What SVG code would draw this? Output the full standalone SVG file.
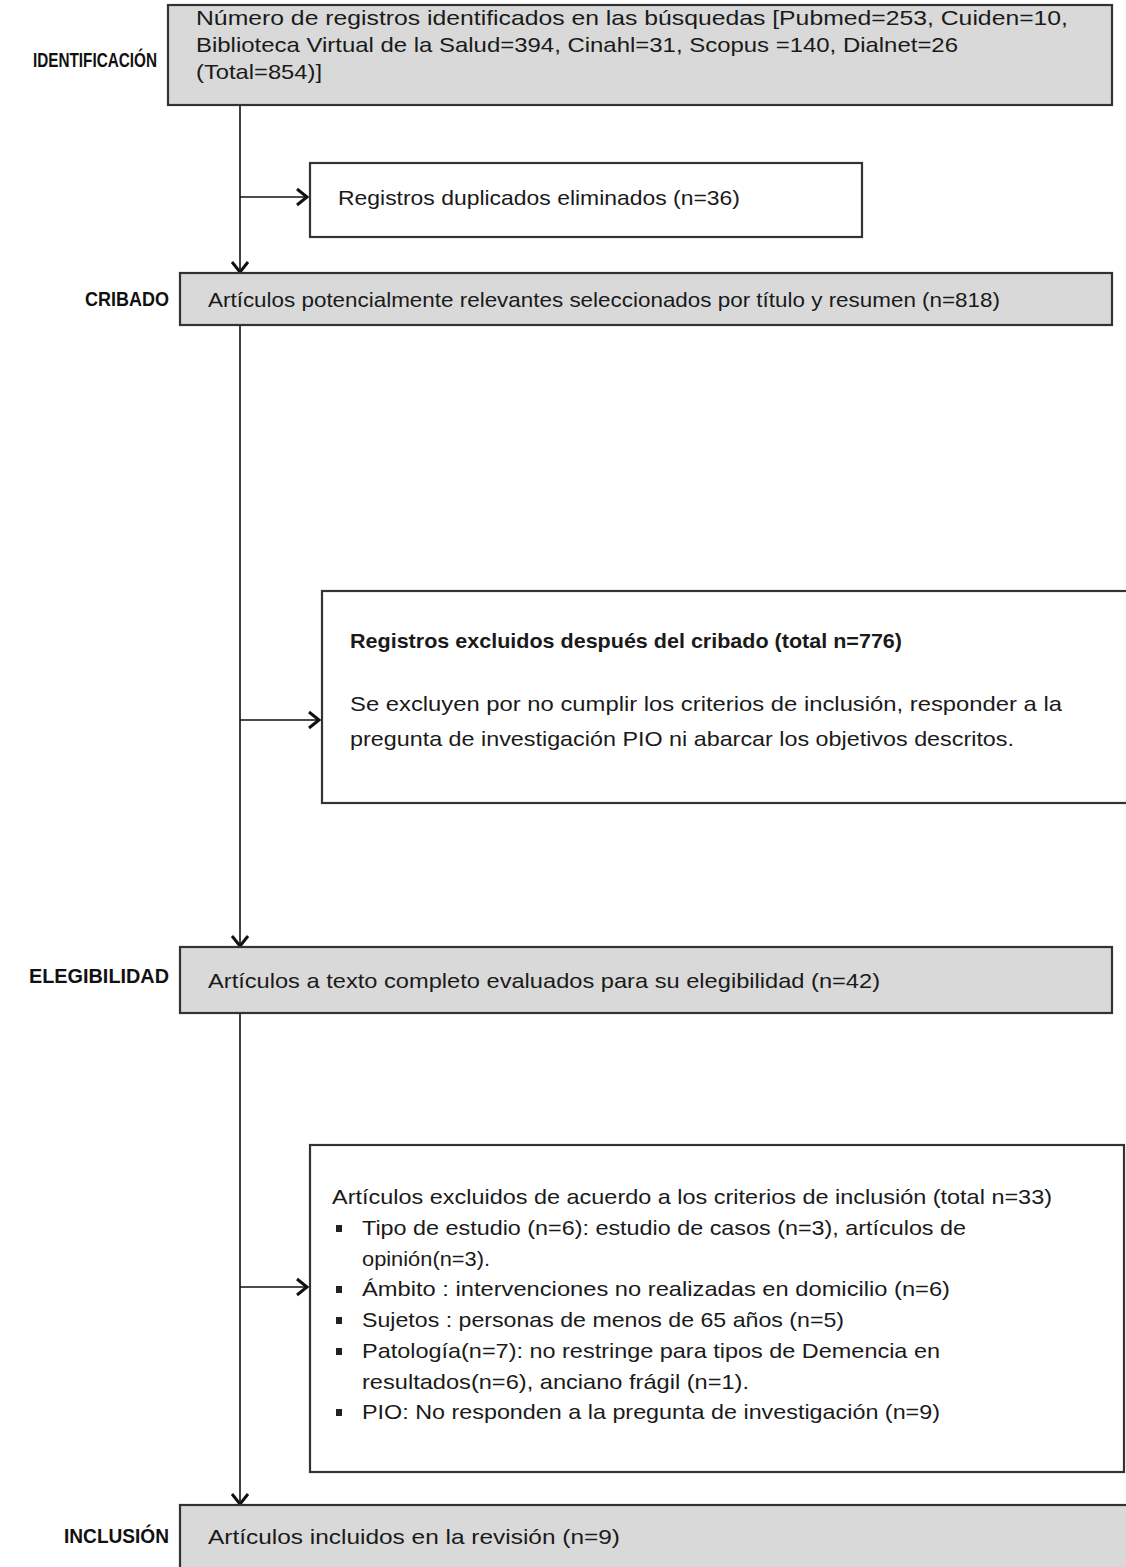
<svg xmlns="http://www.w3.org/2000/svg" width="1126" height="1567" viewBox="0 0 1126 1567">
<defs>
<marker id="arr" markerWidth="18" markerHeight="20" refX="13" refY="10" orient="auto" markerUnits="userSpaceOnUse">
<path d="M3,2 L13,10 L3,18" fill="none" stroke="#111" stroke-width="3"/>
</marker>
<style>
.t{font-family:"Liberation Sans",Arial,sans-serif;font-size:21px;fill:#1a1a1a}
.b{font-weight:bold}
.lab{font-family:"Liberation Sans",Arial,sans-serif;font-size:21px;font-weight:bold;fill:#111}
.g{fill:#d9d9d9;stroke:#333;stroke-width:2.2}
.w{fill:#fff;stroke:#333;stroke-width:2.2}
.c{fill:none;stroke:#111;stroke-width:1.6}
</style>
</defs>
<rect width="1126" height="1567" fill="#fff"/>
<g id="labels">
<text class="lab" x="33" y="67" textLength="124" lengthAdjust="spacingAndGlyphs">IDENTIFICACIÓN</text>
<text class="lab" x="85" y="306" textLength="84" lengthAdjust="spacingAndGlyphs">CRIBADO</text>
<text class="lab" x="29" y="983" textLength="140" lengthAdjust="spacingAndGlyphs">ELEGIBILIDAD</text>
<text class="lab" x="64" y="1543" textLength="105" lengthAdjust="spacingAndGlyphs">INCLUSIÓN</text>
</g>
<g id="connectors">
<line class="c" x1="240" y1="105" x2="240" y2="272" marker-end="url(#arr)"/>
<line class="c" x1="240" y1="197" x2="307" y2="197" marker-end="url(#arr)"/>
<line class="c" x1="240" y1="325" x2="240" y2="946" marker-end="url(#arr)"/>
<line class="c" x1="240" y1="720" x2="319" y2="720" marker-end="url(#arr)"/>
<line class="c" x1="240" y1="1013" x2="240" y2="1504" marker-end="url(#arr)"/>
<line class="c" x1="240" y1="1287" x2="307" y2="1287" marker-end="url(#arr)"/>
</g>
<g id="identificacion">
<rect class="g" x="168" y="5" width="944" height="100"/>
<text class="t" x="196" y="25" textLength="872" lengthAdjust="spacingAndGlyphs">Número  de registros identificados en las búsquedas [Pubmed=253, Cuiden=10,</text>
<text class="t" x="196" y="52" textLength="762" lengthAdjust="spacingAndGlyphs">Biblioteca Virtual de la Salud=394, Cinahl=31,  Scopus =140, Dialnet=26</text>
<text class="t" x="196" y="79" textLength="126" lengthAdjust="spacingAndGlyphs">(Total=854)]</text>
</g>
<g id="duplicados">
<rect class="w" x="310" y="163" width="552" height="74"/>
<text class="t" x="338" y="205" textLength="402" lengthAdjust="spacingAndGlyphs">Registros duplicados eliminados (n=36)</text>
</g>
<g id="cribado">
<rect class="g" x="180" y="273" width="932" height="52"/>
<text class="t" x="208" y="307" textLength="792" lengthAdjust="spacingAndGlyphs">Artículos potencialmente relevantes seleccionados por título y resumen  (n=818)</text>
</g>
<g id="excluidos-cribado">
<rect class="w" x="322" y="591" width="810" height="212"/>
<text class="t b" x="350" y="648" textLength="552" lengthAdjust="spacingAndGlyphs">Registros excluidos después del cribado (total n=776)</text>
<text class="t" x="350" y="711" textLength="712" lengthAdjust="spacingAndGlyphs">Se excluyen por no cumplir los criterios de inclusión, responder a la</text>
<text class="t" x="350" y="746" textLength="664" lengthAdjust="spacingAndGlyphs">pregunta de investigación PIO ni abarcar los objetivos descritos.</text>
</g>
<g id="elegibilidad">
<rect class="g" x="180" y="947" width="932" height="66"/>
<text class="t" x="208" y="988" textLength="672" lengthAdjust="spacingAndGlyphs">Artículos a texto completo evaluados para su elegibilidad  (n=42)</text>
</g>
<g id="excluidos-elegibilidad">
<rect class="w" x="310" y="1145" width="814" height="327"/>
<text class="t" x="332" y="1204" textLength="720" lengthAdjust="spacingAndGlyphs">Artículos excluidos de acuerdo a los criterios de inclusión (total n=33)</text>
<g fill="#222">
<rect x="336" y="1225" width="6" height="7"/>
<rect x="336" y="1286" width="6" height="7"/>
<rect x="336" y="1317" width="6" height="7"/>
<rect x="336" y="1348" width="6" height="7"/>
<rect x="336" y="1409" width="6" height="7"/>
</g>
<text class="t" x="362" y="1235" textLength="604" lengthAdjust="spacingAndGlyphs">Tipo de estudio (n=6): estudio de casos (n=3), artículos de</text>
<text class="t" x="362" y="1266" textLength="128" lengthAdjust="spacingAndGlyphs">opinión(n=3).</text>
<text class="t" x="362" y="1296" textLength="588" lengthAdjust="spacingAndGlyphs">Ámbito : intervenciones no realizadas en domicilio (n=6)</text>
<text class="t" x="362" y="1327" textLength="482" lengthAdjust="spacingAndGlyphs">Sujetos : personas de menos de 65 años (n=5)</text>
<text class="t" x="362" y="1358" textLength="578" lengthAdjust="spacingAndGlyphs">Patología(n=7): no restringe para tipos de Demencia en</text>
<text class="t" x="362" y="1389" textLength="387" lengthAdjust="spacingAndGlyphs">resultados(n=6), anciano frágil (n=1).</text>
<text class="t" x="362" y="1419" textLength="578" lengthAdjust="spacingAndGlyphs">PIO: No responden a la pregunta de investigación (n=9)</text>
</g>
<g id="inclusion">
<rect class="g" x="180" y="1505" width="952" height="70"/>
<text class="t" x="208" y="1544" textLength="412" lengthAdjust="spacingAndGlyphs">Artículos incluidos en la revisión (n=9)</text>
</g>
</svg>
